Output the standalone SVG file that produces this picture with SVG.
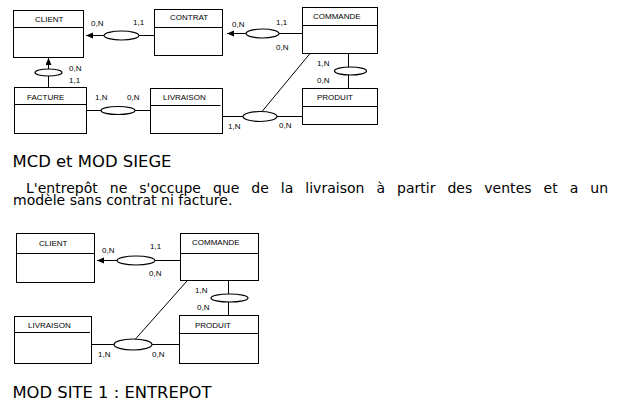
<svg xmlns="http://www.w3.org/2000/svg" width="628" height="418" viewBox="0 0 628 418">
<style>
.box{fill:#fff;stroke:#000;stroke-width:1}
.ln{fill:none;stroke:#000;stroke-width:1}
.ell{fill:#fff;stroke:#000;stroke-width:1.2}
.nm{font-family:"Liberation Sans",Arial,sans-serif;font-size:8px;fill:#000}
.lbl{font-family:"Liberation Sans",Arial,sans-serif;font-size:8px;fill:#000}
.title{font-family:"DejaVu Sans",Verdana,sans-serif;font-size:15px;fill:#000}
.para{font-family:"DejaVu Sans",Verdana,sans-serif;font-size:14px;fill:#000}
</style>
<defs>
<marker id="arr" markerUnits="userSpaceOnUse" markerWidth="8" markerHeight="7" refX="7" refY="3" orient="auto">
<path d="M0,0 L7,3 L0,6 z" fill="#000"/>
</marker>
</defs>

<!-- Diagram 1: MCD et MOD SIEGE -->
<g id="d1-client"><rect class="box" x="13.5" y="10.5" width="70" height="47"/><line class="ln" x1="13.5" y1="27.5" x2="83.5" y2="27.5"/><text class="nm" x="35" y="21.5">CLIENT</text></g>
<g id="d1-contrat"><rect class="box" x="154.5" y="9.5" width="68" height="46"/><line class="ln" x1="154.5" y1="27.5" x2="222.5" y2="27.5"/><text class="nm" x="170" y="20">CONTRAT</text></g>
<g id="d1-commande"><rect class="box" x="302.5" y="7.5" width="75" height="46"/><line class="ln" x1="302.5" y1="25.5" x2="377.5" y2="25.5"/><text class="nm" x="313" y="19">COMMANDE</text></g>
<g id="d1-produit"><rect class="box" x="302.5" y="88.5" width="75" height="36"/><line class="ln" x1="302.5" y1="106.5" x2="377.5" y2="106.5"/><text class="nm" x="317" y="100">PRODUIT</text></g>
<g id="d1-facture"><rect class="box" x="14.5" y="87.5" width="72" height="46"/><line class="ln" x1="14.5" y1="104.5" x2="86.5" y2="104.5"/><text class="nm" x="27" y="100">FACTURE</text></g>
<g id="d1-livraison"><rect class="box" x="150.5" y="88.5" width="72" height="45"/><line class="ln" x1="150.5" y1="105.5" x2="220.5" y2="105.5"/><text class="nm" x="163" y="100">LIVRAISON</text></g>

<g id="d1-connectors">
<line class="ln" x1="104" y1="35.5" x2="86" y2="35.5" marker-end="url(#arr)"/>
<line class="ln" x1="139" y1="35.5" x2="154.5" y2="35.5"/>
<ellipse class="ell" cx="121.5" cy="35.5" rx="17.5" ry="4.5"/>

<line class="ln" x1="246" y1="33.5" x2="227" y2="33.5" marker-end="url(#arr)"/>
<line class="ln" x1="279" y1="33.5" x2="302.5" y2="33.5"/>
<ellipse class="ell" cx="262.5" cy="33.5" rx="16.5" ry="4.5"/>

<line class="ln" x1="348.5" y1="53.5" x2="348.5" y2="88.5"/>
<ellipse class="ell" cx="350.5" cy="71" rx="16" ry="4"/>

<line class="ln" x1="48.5" y1="69" x2="48.5" y2="58" marker-end="url(#arr)"/>
<line class="ln" x1="48.5" y1="76" x2="48.5" y2="87.5"/>
<ellipse class="ell" cx="48.5" cy="72.5" rx="13.5" ry="3.5"/>

<line class="ln" x1="86.5" y1="110.5" x2="150.5" y2="110.5"/>
<ellipse class="ell" cx="118" cy="110.5" rx="17" ry="4"/>

<line class="ln" x1="222.5" y1="116.5" x2="302.5" y2="116.5"/>
<line class="ln" x1="262" y1="111.5" x2="310" y2="53.5"/>
<ellipse class="ell" cx="260" cy="116.5" rx="17" ry="5"/>

<text class="lbl" x="91" y="26">0,N</text>
<text class="lbl" x="133" y="25">1,1</text>
<text class="lbl" x="232" y="27">0,N</text>
<text class="lbl" x="276" y="25">1,1</text>
<text class="lbl" x="276" y="50">0,N</text>
<text class="lbl" x="317" y="66">1,N</text>
<text class="lbl" x="317" y="83">0,N</text>
<text class="lbl" x="69" y="71">0,N</text>
<text class="lbl" x="69" y="83">1,1</text>
<text class="lbl" x="95" y="100">1,N</text>
<text class="lbl" x="127" y="100">0,N</text>
<text class="lbl" x="228" y="129">1,N</text>
<text class="lbl" x="279" y="128">0,N</text>
</g>

<text class="title" x="12.5" y="167" textLength="159" lengthAdjust="spacingAndGlyphs">MCD et MOD SIEGE</text>
<text class="para" x="26" y="192.5" word-spacing="7.5" textLength="582" lengthAdjust="spacing">L'entrepôt ne s'occupe que de la livraison à partir des ventes et a un</text>
<text class="para" x="13" y="205">modèle sans contrat ni facture.</text>

<!-- Diagram 2: MOD SITE 1 : ENTREPOT -->
<g id="d2-client"><rect class="box" x="16.5" y="233.5" width="78" height="49"/><line class="ln" x1="16.5" y1="253.5" x2="94.5" y2="253.5"/><text class="nm" x="39" y="246">CLIENT</text></g>
<g id="d2-commande"><rect class="box" x="180.5" y="233.5" width="78" height="47"/><line class="ln" x1="180.5" y1="253.5" x2="258.5" y2="253.5"/><text class="nm" x="192" y="245">COMMANDE</text></g>
<g id="d2-livraison"><rect class="box" x="14.5" y="316.5" width="77" height="47"/><line class="ln" x1="14.5" y1="332.5" x2="90" y2="332.5"/><text class="nm" x="28" y="328">LIVRAISON</text></g>
<g id="d2-produit"><rect class="box" x="179.5" y="315.5" width="79" height="48"/><line class="ln" x1="179.5" y1="333.5" x2="258.5" y2="333.5"/><text class="nm" x="195" y="328">PRODUIT</text></g>

<g id="d2-connectors">
<line class="ln" x1="117" y1="260.5" x2="97" y2="260.5" marker-end="url(#arr)"/>
<line class="ln" x1="155" y1="260.5" x2="180.5" y2="260.5"/>
<ellipse class="ell" cx="136" cy="260.5" rx="19" ry="4.5"/>

<line class="ln" x1="228.5" y1="280.5" x2="228.5" y2="315.5"/>
<ellipse class="ell" cx="229.5" cy="298" rx="18.5" ry="4"/>

<line class="ln" x1="91.5" y1="344.5" x2="179.5" y2="344.5"/>
<line class="ln" x1="135" y1="339.5" x2="187" y2="281"/>
<ellipse class="ell" cx="133" cy="344.5" rx="19" ry="5.5"/>

<text class="lbl" x="102" y="253">0,N</text>
<text class="lbl" x="150" y="249">1,1</text>
<text class="lbl" x="149" y="276">0,N</text>
<text class="lbl" x="195" y="293">1,N</text>
<text class="lbl" x="197" y="310">0,N</text>
<text class="lbl" x="98" y="357">1,N</text>
<text class="lbl" x="152" y="357">0,N</text>
</g>

<text class="title" x="12.5" y="397.5" textLength="199" lengthAdjust="spacingAndGlyphs">MOD SITE 1 : ENTREPOT</text>
</svg>
